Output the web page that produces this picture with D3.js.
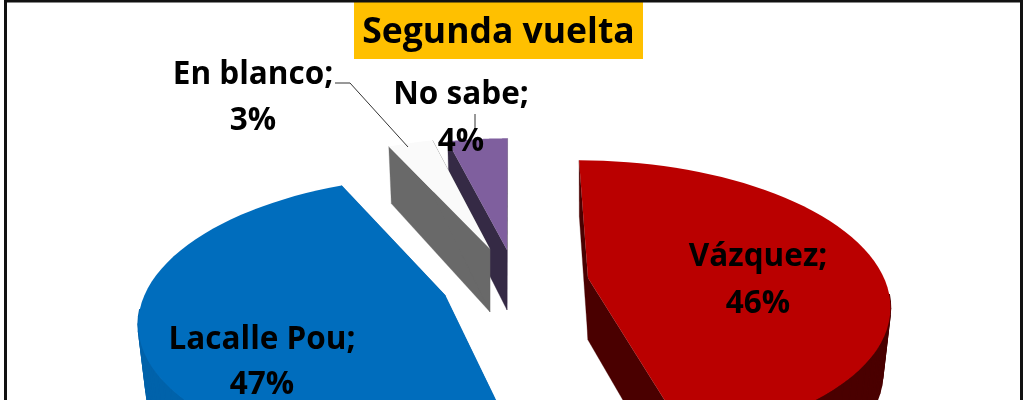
<!DOCTYPE html>
<html><head><meta charset="utf-8">
<script src="https://cdn.jsdelivr.net/npm/d3@7"></script>
<style>
html,body{margin:0;padding:0;background:#fff;overflow:hidden}
svg{display:block;filter:blur(0.5px)}
text{font-family:"Open Sans",Lato,sans-serif;font-weight:700;fill:#000}
</style></head><body>
<svg id="c" width="1024" height="400"></svg>
<script>
const categories = ["Vázquez","Lacalle Pou","En blanco","No sabe"];
const shares = [46,47,3,4];
const topColors = ["#BA0000","#006DBD","#FAFAFA","#7F5F9E"];
const wallColors = ["#4A0000","#0062AA","#696969","#352A45"];
const titleText = "Segunda vuelta";

const svg=d3.select("#c");
// placement of each exploded slice in the perspective view
const place={
 "Vázquez":{ax:588,ay:278,s:.98,h:62},
 "Lacalle Pou":{ax:445,ay:295,s:.995,h:60},
 "En blanco":{ax:490,ay:249,s:.93,h:63},
 "No sabe":{ax:507,ay:250,s:.93,h:60}
};
const k=.172,A=302,B=140.7,taper=.025;
function proj(p,a,z){
  const u=Math.sin(a),v=-Math.cos(a),w=1-k*v;
  const x=A*u/w,y=B*v/w,sk=(p.ax-512)/1000;
  const f=1-taper*z;
  return [p.ax+p.s*f*(x+sk*y), p.ay+p.s*f*y+p.h*z/w];
}
const apex=(p,z)=>[p.ax,p.ay+p.h*z];
const arcs=d3.pie().sort(null).startAngle(0).endAngle(2*Math.PI)(shares);
const line=d3.line();
const n=60;
const angleAt=(d,j)=>d.startAngle+(d.endAngle-d.startAngle)*j/n;
function rim(p,d,z){
  return d3.range(n+1).map(j=>proj(p,angleAt(d,j),z));
}
const g=svg.append("g");
[3,2,1,0].forEach(i=>{
  const d=arcs[i],p=place[categories[i]];
  const sl=g.append("g").attr("class","slice");
  const wall=(pts,sw)=>sl.append("path").attr("d",line(pts)+"Z").attr("fill",wallColors[i]).attr("stroke",wallColors[i]).attr("stroke-width",sw);
  wall([apex(p,0),proj(p,d.startAngle,0),proj(p,d.startAngle,1),apex(p,1)],.3);
  wall([apex(p,0),proj(p,d.endAngle,0),proj(p,d.endAngle,1),apex(p,1)],.3);
  const r0=rim(p,d,0),r1=rim(p,d,1);
  // the far part of the rim is hidden behind the top face
  r0.slice(1).forEach((q,j)=>{ if(Math.cos(angleAt(d,j))<-.1) wall([r0[j],q,r1[j+1],r1[j]],1.5); });
  sl.append("path").attr("d",line([apex(p,0)].concat(r0))+"Z").attr("fill",topColors[i]);
});
// leader lines
const lead=d3.line();
svg.append("path").attr("d",lead([[335,83],[350,83],[408,147]])).attr("fill","none").attr("stroke","#333").attr("stroke-width",1);
svg.append("path").attr("d",lead([[475,114],[475,132]])).attr("fill","none").attr("stroke","#333").attr("stroke-width",1);
// title
svg.append("rect").attr("x",354).attr("y",2).attr("width",289).attr("height",57).attr("fill","#FFC000");
svg.append("text").attr("x",498.5).attr("y",43).attr("text-anchor","middle").attr("font-size",35.5).text(titleText);
// labels
const labelAt={"Vázquez":[758,266,313],"Lacalle Pou":[262,349,394],"En blanco":[253,84,130],"No sabe":[461,104,151]};
categories.forEach((c,i)=>{
  const [x,y1,y2]=labelAt[c];
  svg.append("text").attr("x",x).attr("y",y1).attr("text-anchor","middle").attr("font-size",31.5).text(c+";");
  svg.append("text").attr("x",x).attr("y",y2).attr("text-anchor","middle").attr("font-size",31.5).text(shares[i]+"%");
});
// frame
svg.append("rect").attr("x",5.5).attr("y",1).attr("width",1016).attr("height",410).attr("fill","none").attr("stroke","#111").attr("stroke-width",3);
</script></body></html>
